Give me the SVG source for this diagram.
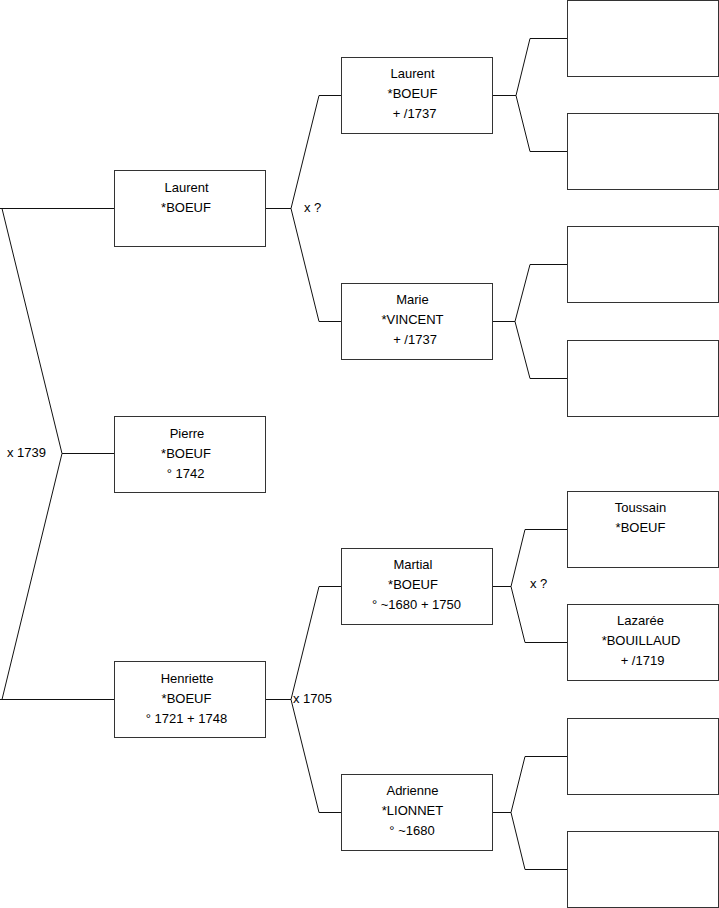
<svg xmlns="http://www.w3.org/2000/svg" width="719" height="908" viewBox="0 0 719 908">
<style>
.box{fill:#fff;stroke:#333;stroke-width:1}
.ln{fill:none;stroke:#111;stroke-width:1}
text{font-family:"Liberation Sans",Arial,sans-serif;font-size:13px;fill:#000}
.c{text-anchor:middle}
</style>
<rect width="719" height="908" fill="#fff"/>
<g id="connectors">
<path class="ln" d="M0,208.5H114 M2,208.5L62,453.5L2,699.5 M62,453.5H114 M0,699.5H114"/>
<path class="ln" d="M265,208.5H291 M341,95.5H319L291,208.5L319,321.5H341"/>
<path class="ln" d="M265,699.5H291 M341,586.5H319L291,699.5L319,812.5H341"/>
<path class="ln" d="M492,95.5H516 M567,38.5H530L516,95.5L530,151.5H567"/>
<path class="ln" d="M492,321.5H515 M567,264.5H530L515,321.5L530,378.5H567"/>
<path class="ln" d="M492,586.5H511 M567,529.5H525L511,586.5L525,642.5H567"/>
<path class="ln" d="M492,812.5H511 M567,756.5H525L511,812.5L525,869.5H567"/>
<text x="7" y="457">x 1739</text>
<text x="304" y="212">x ?</text>
<text x="293" y="703">x 1705</text>
<text x="530" y="588">x ?</text>
</g>
<g id="n-laurent1"><rect class="box" x="114.5" y="170.5" width="151" height="76"/><text class="c" x="186.5" y="192">Laurent</text><text class="c" x="186" y="212">*BOEUF</text></g>
<g id="n-pierre"><rect class="box" x="114.5" y="416.5" width="151" height="76"/><text class="c" x="187" y="438">Pierre</text><text class="c" x="186" y="458">*BOEUF</text><text class="c" x="185.5" y="478">° 1742</text></g>
<g id="n-henriette"><rect class="box" x="114.5" y="661.5" width="151" height="76"/><text class="c" x="187" y="683">Henriette</text><text class="c" x="186.5" y="703">*BOEUF</text><text class="c" x="186.5" y="723">° 1721 + 1748</text></g>
<g id="n-laurent2"><rect class="box" x="341.5" y="57.5" width="151" height="76"/><text class="c" x="412.5" y="78">Laurent</text><text class="c" x="412.5" y="98">*BOEUF</text><text class="c" x="414.5" y="118">+ /1737</text></g>
<g id="n-marie"><rect class="box" x="341.5" y="283.5" width="151" height="76"/><text class="c" x="412.5" y="304">Marie</text><text class="c" x="412.5" y="324">*VINCENT</text><text class="c" x="415" y="344">+ /1737</text></g>
<g id="n-martial"><rect class="box" x="341.5" y="548.5" width="151" height="76"/><text class="c" x="413" y="569">Martial</text><text class="c" x="413" y="589">*BOEUF</text><text class="c" x="416.5" y="609">° ~1680 + 1750</text></g>
<g id="n-adrienne"><rect class="box" x="341.5" y="774.5" width="151" height="76"/><text class="c" x="412.5" y="795">Adrienne</text><text class="c" x="412.5" y="815">*LIONNET</text><text class="c" x="412" y="835">° ~1680</text></g>
<g id="n-g3-1"><rect class="box" x="567.5" y="0.5" width="151" height="76"/></g>
<g id="n-g3-2"><rect class="box" x="567.5" y="113.5" width="151" height="76"/></g>
<g id="n-g3-3"><rect class="box" x="567.5" y="226.5" width="151" height="76"/></g>
<g id="n-g3-4"><rect class="box" x="567.5" y="340.5" width="151" height="76"/></g>
<g id="n-toussain"><rect class="box" x="567.5" y="491.5" width="151" height="76"/><text class="c" x="640.5" y="512">Toussain</text><text class="c" x="640.5" y="532">*BOEUF</text></g>
<g id="n-lazaree"><rect class="box" x="567.5" y="604.5" width="151" height="76"/><text class="c" x="640.5" y="625">Lazarée</text><text class="c" x="641" y="645">*BOUILLAUD</text><text class="c" x="642.5" y="665">+ /1719</text></g>
<g id="n-g3-7"><rect class="box" x="567.5" y="718.5" width="151" height="76"/></g>
<g id="n-g3-8"><rect class="box" x="567.5" y="831.5" width="151" height="76"/></g>
</svg>
